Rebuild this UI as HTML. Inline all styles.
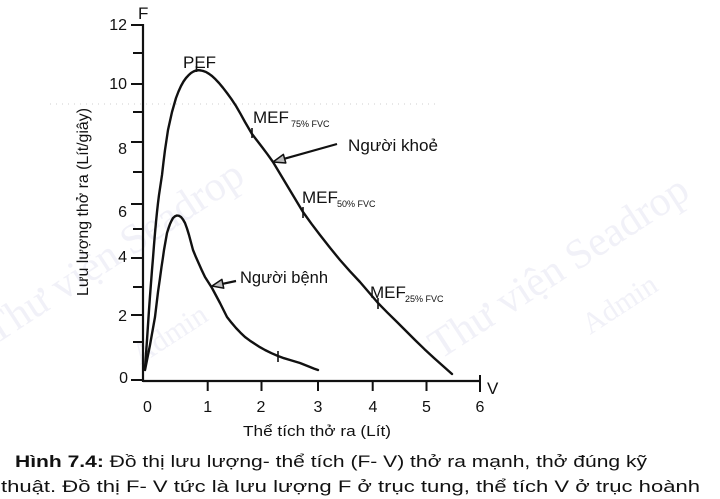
<!DOCTYPE html>
<html>
<head>
<meta charset="utf-8">
<style>
  html, body { margin:0; padding:0; background:#fff; }
  svg { display:block; }
  text { font-family: "Liberation Sans", "Noto Sans CJK SC", sans-serif; fill:#111; }
  .wm { font-family: "Liberation Serif", "Noto Serif CJK SC", serif; fill:#f1f1f8; }
</style>
</head>
<body>
<svg width="720" height="499" viewBox="0 0 720 499" xmlns="http://www.w3.org/2000/svg">
  <rect width="720" height="499" fill="#fff"/>

  <!-- watermarks -->
  <text class="wm" x="-5" y="345" font-size="42" transform="rotate(-33 -5 345)">Thư viện Seadrop</text>
  <text class="wm" x="140" y="365" font-size="30" transform="rotate(-33 140 365)">Admin</text>
  <text class="wm" x="440" y="360" font-size="42" transform="rotate(-33 440 360)">Thư viện Seadrop</text>
  <text class="wm" x="590" y="335" font-size="30" transform="rotate(-33 590 335)">Admin</text>

  <!-- faint dotted scan line -->
  <line x1="50" y1="104" x2="440" y2="104" stroke="#cfcfcf" stroke-width="1" stroke-dasharray="1 5"/>

  <!-- Y axis -->
  <line x1="143" y1="24" x2="143" y2="382" stroke="#111" stroke-width="2.2"/>
  <g stroke="#111" stroke-width="2">
    <line x1="131" y1="25" x2="143" y2="25"/>
    <line x1="133" y1="53" x2="143" y2="53"/>
    <line x1="131" y1="84" x2="143" y2="84"/>
    <line x1="133" y1="112" x2="143" y2="112"/>
    <line x1="131" y1="142" x2="143" y2="142"/>
    <line x1="133" y1="172" x2="143" y2="172"/>
    <line x1="131" y1="204" x2="143" y2="204"/>
    <line x1="133" y1="229" x2="143" y2="229"/>
    <line x1="131" y1="258" x2="143" y2="258"/>
    <line x1="133" y1="287" x2="143" y2="287"/>
    <line x1="131" y1="315" x2="143" y2="315"/>
    <line x1="133" y1="342" x2="143" y2="342"/>
    <line x1="131" y1="380" x2="143" y2="380"/>
  </g>
  <g font-size="16" text-anchor="end">
    <text x="127" y="30">12</text>
    <text x="127" y="89">10</text>
    <text x="127" y="154">8</text>
    <text x="127" y="217">6</text>
    <text x="127" y="262">4</text>
    <text x="127" y="321">2</text>
    <text x="128" y="383">0</text>
  </g>
  <text x="138" y="19" font-size="17">F</text>

  <!-- X axis -->
  <line x1="143" y1="381" x2="481" y2="381" stroke="#111" stroke-width="2.2"/>
  <g stroke="#111" stroke-width="2">
    <line x1="207.7" y1="381" x2="207.7" y2="391"/>
    <line x1="261.5" y1="381" x2="261.5" y2="391"/>
    <line x1="318" y1="381" x2="318" y2="391"/>
    <line x1="372.7" y1="381" x2="372.7" y2="391"/>
    <line x1="426.5" y1="381" x2="426.5" y2="391"/>
    <line x1="480" y1="375" x2="480" y2="392"/>
  </g>
  <g font-size="16" text-anchor="middle">
    <text x="147.5" y="412">0</text>
    <text x="207.7" y="412">1</text>
    <text x="261" y="412">2</text>
    <text x="318" y="412">3</text>
    <text x="373" y="412">4</text>
    <text x="426.5" y="412">5</text>
    <text x="480" y="412">6</text>
  </g>
  <text x="487" y="394" font-size="17">V</text>

  <!-- axis titles -->
  <text x="243" y="436" font-size="15" textLength="148" lengthAdjust="spacingAndGlyphs">Thể tích thở ra (Lít)</text>
  <text x="0" y="0" font-size="16" text-anchor="middle" textLength="188" lengthAdjust="spacingAndGlyphs" transform="translate(88 202) rotate(-90)">Lưu lượng thở ra (Lít/giây)</text>

  <!-- healthy curve -->
  <polyline fill="none" stroke="#111" stroke-width="2.4" stroke-linejoin="round" stroke-linecap="round"
    points="145,368 146,354 147,340 148,325 149,310 150,296 151,283 152,270 153,258 154,245 155,233 156,222 157,212 158,203 159,195 160.5,185 162,175 163.5,162 165,150 166.5,140 168,130 170,121 172,112 174,105 176,98 178.5,91.5 181,86 183.5,81.5 186,78 188.5,75.3 191,73 193.5,71.5 196,70.5 198.5,70.2 201,70.5 203.5,71.1 206,72 209,73.8 212,76 215.5,79.3 219,83 223,87.8 227,93 231.5,99.2 236,106 240.5,113.8 245,122 248.5,128 252,134 257,140.5 262,147 267.5,154.3 273,162 280.5,174.5 288,187 295.5,199.5 303,212 311.5,223.8 320,235 330,247.8 340,260 350,271.3 360,282 369,292.5 378,303 387.5,312.7 397,322 406,331 415,340 424.5,349.2 434,358 443,366 452,374"/>

  <!-- patient curve -->
  <polyline fill="none" stroke="#111" stroke-width="2.4" stroke-linejoin="round" stroke-linecap="round"
    points="145,370 147.5,357.5 150,345 152.5,331 155,317 156.5,304.5 158,292 159.8,279.5 161.5,267 162.8,258.5 164,250 165.5,241.5 167,233 168.5,228.3 170,224 171.5,220.8 173,218 175,216.3 177,215.5 179,215.8 181,217 183,219.5 185,223 187,228.5 189,235 191,242.5 193,250 196,257.3 199,264 202,270.7 205,277 208.5,282.5 212,288 216,295.5 220,303 223.5,310 227,317 231.5,322.7 236,328 240.5,332.7 245,337 250,340.7 255,344 260,347.2 265,350 271.5,353.2 278,356 284,358.2 290,360 295,361.5 300,363 305,365 310,367 314,368.6 318,370"/>

  <!-- curve markers -->
  <g stroke="#111" stroke-width="1.6">
    <line x1="196.5" y1="66" x2="196.5" y2="72"/>
    <line x1="252" y1="128" x2="252" y2="138"/>
    <line x1="303" y1="207" x2="303" y2="218"/>
    <line x1="378" y1="298" x2="378" y2="309"/>
    <line x1="278" y1="351" x2="278" y2="362"/>
  </g>

  <!-- labels on curve -->
  <text x="183" y="68" font-size="17">PEF</text>
  <text x="253" y="123" font-size="17">MEF</text>
  <text x="291" y="127" font-size="9">75% FVC</text>
  <text x="302" y="203" font-size="17">MEF</text>
  <text x="337" y="207" font-size="9">50% FVC</text>
  <text x="370" y="298" font-size="17">MEF</text>
  <text x="405" y="302" font-size="9">25% FVC</text>

  <!-- arrows -->
  <line x1="284.6" y1="158.7" x2="337" y2="144" stroke="#111" stroke-width="2.2"/>
  <polygon points="273,162 285.8,163 283.4,154.4" fill="#bbb" stroke="#111" stroke-width="1.5" stroke-linejoin="round"/>
  <text x="348" y="151" font-size="17" textLength="90" lengthAdjust="spacingAndGlyphs">Người khoẻ</text>

  <line x1="222.8" y1="283.8" x2="236" y2="281" stroke="#111" stroke-width="2.2"/>
  <polygon points="212,286 223.7,288.2 221.9,279.4" fill="#bbb" stroke="#111" stroke-width="1.5" stroke-linejoin="round"/>
  <text x="240" y="283" font-size="17" textLength="88" lengthAdjust="spacingAndGlyphs">Người bệnh</text>

  <!-- caption -->
  <text x="15" y="467" font-size="17" textLength="632" lengthAdjust="spacingAndGlyphs"><tspan font-weight="bold">Hình 7.4:</tspan> Đồ thị lưu lượng- thể tích (F- V) thở ra mạnh, thở đúng kỹ</text>
  <text x="1" y="492" font-size="17" textLength="699" lengthAdjust="spacingAndGlyphs">thuật. Đồ thị F- V tức là lưu lượng F ở trục tung, thể tích V ở trục hoành</text>
</svg>
</body>
</html>
